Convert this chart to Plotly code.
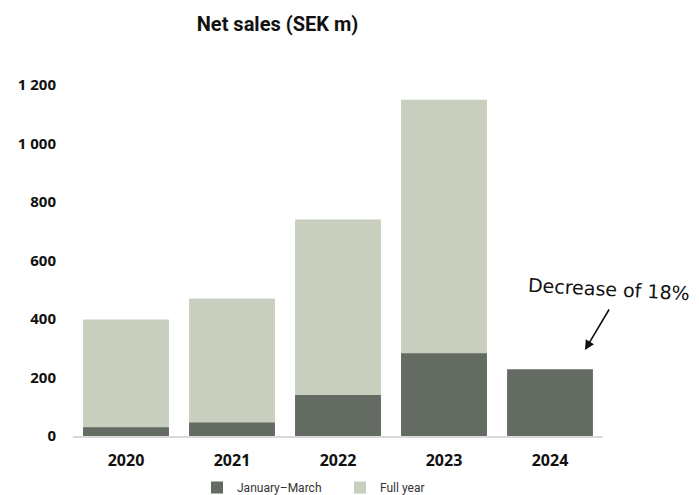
import plotly.graph_objects as go

years = ["2020", "2021", "2022", "2023", "2024"]
full_year = [398, 470, 740, 1150, None]
jan_mar = [30, 46, 140, 283, 228]
tick_vals = [0, 200, 400, 600, 800, 1000, 1200]
tick_text = ["0", "200", "400", "600", "800", "1 000", "1 200"]

DARK = "#636b62"
LIGHT = "#c8cfbf"

fig = go.Figure()
fig.add_trace(go.Bar(x=years, y=full_year, name="Full year", marker=dict(color=LIGHT, line=dict(width=0)),
                     legendrank=2))
fig.add_trace(go.Bar(x=years, y=jan_mar, name="January–March", marker=dict(color=DARK, line=dict(width=0)),
                     legendrank=1))

fig.update_layout(
    width=699, height=495,
    barmode="overlay", bargap=0.19,
    plot_bgcolor="white", paper_bgcolor="white",
    margin=dict(l=73, r=96, t=85, b=59, autoexpand=False),
    title=dict(text="<b>Net sales (SEK m)</b>", x=277.5/699, xanchor="center", y=1-24/495, yanchor="middle",
               font=dict(family="Liberation Sans Narrow, Roboto, sans-serif", size=20, color="#111")),
    font=dict(family="Open Sans, sans-serif", color="#111"),
    legend=dict(orientation="h", x=(197-73)/530, xanchor="left", y=-(502-436)/351, yanchor="bottom",
                font=dict(family="Roboto, sans-serif", size=12, color="#333"),
                itemwidth=30, traceorder="normal", entrywidth=98),
    xaxis=dict(range=[-0.5, 4.5], showline=True, linecolor="#d9d9d9", linewidth=2,
               ticks="outside", ticklen=9, tickcolor="rgba(0,0,0,0)", showgrid=False,
               tickfont=dict(family="Open Sans, sans-serif", size=16, color="#111", weight="bold")),
    yaxis=dict(range=[0, 1200], tickvals=tick_vals, ticktext=tick_text, showgrid=False, zeroline=False,
               ticks="outside", ticklen=13, tickcolor="rgba(0,0,0,0)",
               tickfont=dict(family="Open Sans, sans-serif", size=15, color="#111", weight="bold")),
    showlegend=True,
)

fig.add_annotation(x=4.33, y=294, xref="x", yref="y", text="", showarrow=True,
                   ax=25, ay=-42, arrowhead=2, arrowsize=1.2, arrowwidth=1.6, arrowcolor="#111")
fig.add_annotation(x=(609-73)/530, y=(436-289)/351, xref="paper", yref="paper", xanchor="center", yanchor="middle",
                   text="Decrease of 18%", showarrow=False, textangle=3,
                   font=dict(family="DejaVu Sans, sans-serif", size=19, color="#111"))

fig.write_html("out.html")
